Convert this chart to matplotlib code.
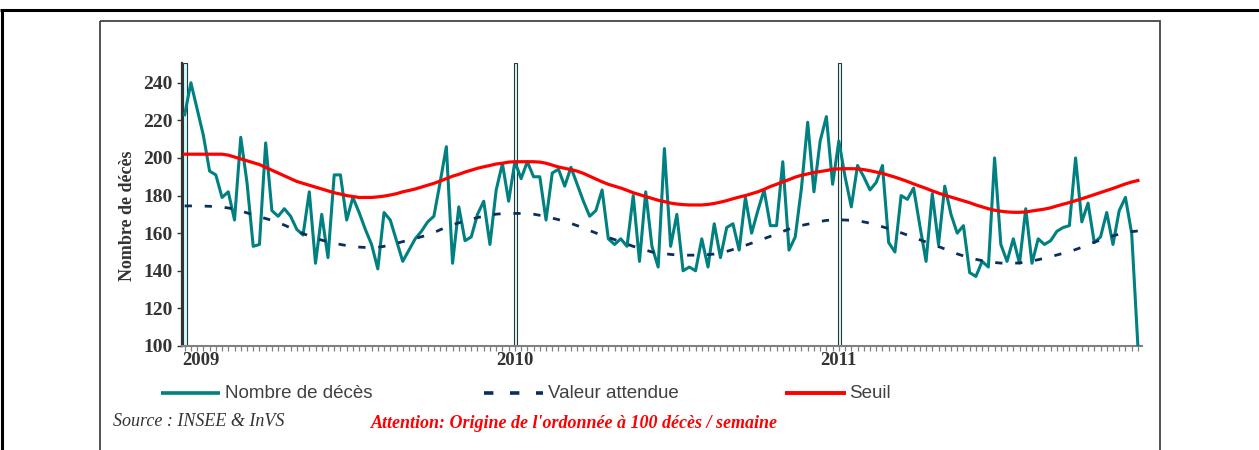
import matplotlib

matplotlib.use("Agg")
import matplotlib.pyplot as plt
import matplotlib.transforms as mtransforms
from matplotlib import font_manager
from matplotlib.patches import Rectangle
import numpy as np

W, H = 1259, 450

# weekly deaths, 2009 week 1 .. 2011 week 49
deces = [
    223, 240, 226, 212, 193, 191, 179, 182, 167, 211,
    187, 153, 154, 208, 172, 169, 173, 169, 162, 159,
    182, 144, 170, 147, 191, 191, 167, 179, 171, 162,
    154, 141, 171, 167, 156, 145, 151, 157, 161, 166,
    169, 187, 206, 144, 174, 156, 158, 170, 177, 154,
    183, 197, 177, 198, 189, 198, 190, 190, 167, 192,
    194, 185, 195, 186, 177, 169, 172, 183, 157, 154,
    157, 153, 180, 145, 182, 153, 142, 205, 153, 170,
    140, 142, 140, 157, 142, 165, 147, 163, 165, 151,
    179, 160, 172, 183, 164, 164, 198, 151, 158, 184,
    219, 182, 209, 222, 186, 209, 190, 174, 196, 190,
    183, 187, 196, 155, 150, 180, 178, 184, 164, 145,
    181, 154, 185, 170, 160, 164, 139, 137, 145, 142,
    200, 154, 145, 157, 144, 173, 144, 157, 154, 156,
    161, 163, 164, 200, 166, 176, 155, 158, 171, 154,
    172, 179, 160, 100,
]

attendue = [
    174.5, 174.5, 174.5, 174.4, 174.3, 174.1, 173.8, 173.4, 172.8, 171.8,
    170.8, 169.8, 168.8, 167.8, 166.8, 165.5, 164.3, 162.8, 161.2, 159.8,
    158.5, 157.3, 156.3, 155.5, 154.7, 154.0, 153.4, 152.9, 152.6, 152.4,
    152.4, 152.5, 153.0, 153.8, 154.6, 155.5, 156.3, 157.2, 158.1, 159.0,
    160.3, 161.8, 163.2, 164.4, 165.5, 166.5, 167.4, 168.3, 169.0, 169.6,
    170.1, 170.4, 170.5, 170.5, 170.5, 170.4, 170.1, 169.5, 168.8, 168.0,
    167.2, 166.2, 165.2, 164.0, 162.8, 161.4, 160.1, 158.8, 157.7, 156.6,
    155.4, 154.2, 153.0, 152.0, 151.0, 150.0, 149.5, 149.1, 148.7, 148.4,
    148.3, 148.3, 148.3, 148.4, 148.6, 148.9, 149.5, 150.3, 151.3, 152.4,
    153.5, 154.7, 155.9, 157.1, 158.3, 159.6, 160.9, 162.2, 163.2, 164.1,
    164.8, 165.5, 166.2, 166.8, 167.0, 167.1, 167.0, 166.8, 166.5, 166.0,
    165.3, 164.4, 163.4, 162.4, 161.3, 160.2, 159.0, 157.7, 156.5, 155.3,
    154.1, 152.9, 151.6, 150.3, 149.0, 147.9, 147.0, 146.1, 145.4, 144.8,
    144.4, 144.1, 144.0, 144.0, 144.2, 144.6, 145.2, 145.9, 146.7, 147.5,
    148.4, 149.3, 150.2, 151.3, 152.5, 154.0, 155.2, 156.4, 157.6, 158.6,
    159.5, 160.2, 160.8, 161.2,
]

seuil = [
    202.0, 202.0, 202.0, 202.0, 202.0, 202.0, 202.0, 201.5, 200.5, 199.5,
    198.5, 197.5, 196.5, 195.0, 193.5, 192.0, 190.5, 189.0, 187.5, 186.5,
    185.5, 184.5, 183.5, 182.5, 181.5, 180.8, 180.0, 179.5, 179.0, 179.0,
    179.0, 179.3, 179.7, 180.3, 181.0, 182.0, 182.7, 183.5, 184.5, 185.5,
    186.5, 187.7, 189.0, 190.3, 191.3, 192.5, 193.5, 194.5, 195.3, 196.0,
    196.8, 197.2, 197.8, 198.0, 198.0, 198.0, 198.0, 197.8, 197.2, 196.2,
    195.2, 194.5, 193.8, 193.0, 191.8, 190.3, 188.8, 187.3, 186.0, 185.0,
    184.0, 182.8, 181.5, 180.5, 179.5, 178.5, 177.5, 176.8, 176.0, 175.5,
    175.2, 175.0, 175.0, 175.0, 175.3, 175.8, 176.5, 177.3, 178.3, 179.2,
    180.0, 181.0, 182.0, 183.3, 184.8, 186.0, 187.3, 188.5, 189.8, 190.8,
    191.5, 192.3, 192.8, 193.3, 194.0, 194.2, 194.3, 194.3, 194.2, 193.8,
    193.2, 192.5, 191.8, 190.8, 189.8, 188.7, 187.5, 186.2, 185.0, 183.8,
    182.5, 181.3, 180.2, 179.2, 178.2, 177.2, 176.2, 175.0, 174.0, 173.0,
    172.2, 171.7, 171.3, 171.1, 171.1, 171.3, 171.8, 172.3, 172.8, 173.5,
    174.5, 175.4, 176.3, 177.3, 178.3, 179.4, 180.5, 181.6, 182.7, 183.8,
    185.0, 186.2, 187.2, 188.0,
]

years = ["2009", "2010", "2011"]
year_start = [0, 53, 105]
y_ticks = [100, 120, 140, 160, 180, 200, 220, 240]

TEAL = "#008080"
NAVY = "#0A2F5F"
RED = "#FF0000"
DARK = "#333333"


def pick_font(names):
    for name in names:
        try:
            font_manager.findfont(name, fallback_to_default=False)
            return name
        except ValueError:
            continue
    return "DejaVu Sans"


SERIF = pick_font(["Liberation Serif", "DejaVu Serif"])
NARROW = pick_font(["Liberation Sans Narrow", "Liberation Sans", "DejaVu Sans"])
plt.rcParams["font.family"] = [SERIF, "DejaVu Serif"]

weeks = np.arange(len(deces))

fig = plt.figure(figsize=(W / 100, H / 100), dpi=100)

# page decorations, drawn in pixel space
bg = fig.add_axes([0, 0, 1, 1], zorder=0)
bg.set_xlim(0, W)
bg.set_ylim(H, 0)
bg.axis("off")
bg.plot([0, W], [10, 10], color="black", lw=2.2, solid_capstyle="butt")
bg.plot([2, 2], [10, H], color="black", lw=2.2, solid_capstyle="butt")
bg.add_patch(Rectangle((100, 21), 1060, 500, fill=False, ec="#444444", lw=1.3, clip_on=False))

ax = fig.add_axes([182 / W, (H - 346) / H, 960 / W, 283 / H], zorder=1)
ax.patch.set_alpha(0)

for ws in year_start:
    ax.axvspan(ws - 0.2, ws + 0.3, fc="#CCFFFF", ec=DARK, lw=0.8, zorder=1)

ax.plot(weeks, deces, color=TEAL, lw=2.2, zorder=3)
ax.plot(weeks, attendue, color=NAVY, lw=2.0, linestyle=(0, (2.6, 4.6)), zorder=4)
ax.plot(weeks, seuil, color=RED, lw=2.3, zorder=5)

ax.set_xlim(-0.43, 153.66)
ax.set_ylim(100, 250.5)
ax.set_yticks(y_ticks)
ax.set_xticks(weeks)
ax.set_xticklabels([])
ax.tick_params(axis="x", length=3.8, width=0.9, color="#808080")
ax.tick_params(axis="y", length=3.8, width=1.0, color=DARK, pad=3, labelsize=14, labelcolor=DARK)
for lab in ax.get_yticklabels():
    lab.set_fontweight("bold")

for side in ["top", "right"]:
    ax.spines[side].set_visible(False)
ax.spines["left"].set_color(DARK)
ax.spines["left"].set_linewidth(1.6)
ax.spines["bottom"].set_color("#808080")
ax.spines["bottom"].set_linewidth(1.5)

trans = mtransforms.blended_transform_factory(ax.transData, ax.transAxes)
for name, ws in zip(years, year_start):
    if ws == 0:
        ax.text(-0.43, -0.05, name, transform=trans, ha="left", va="center",
                fontsize=13.5, fontweight="bold", color=DARK)
    else:
        ax.text(ws, -0.05, name, transform=trans, ha="center", va="center",
                fontsize=13.5, fontweight="bold", color=DARK)

fig.text(127 / W, (H - 216) / H, "Nombre de décès", rotation=90, ha="center", va="center",
         fontsize=13, fontweight="bold", color=DARK)

# legend, hand placed like the original
ly = 393
bg.plot([161, 220], [ly, ly], color=TEAL, lw=2.6, solid_capstyle="butt")
bg.plot([484, 543], [ly, ly], color=NAVY, lw=2.6, linestyle=(0, (2.6, 4.6)))
bg.plot([785, 846], [ly, ly], color=RED, lw=2.8, solid_capstyle="butt")
leg_kw = dict(va="center", ha="left", fontsize=13.5, color="#404040", family=[NARROW, "DejaVu Sans"])
bg.text(225, ly, "Nombre de décès", **leg_kw)
bg.text(548, ly, "Valeur attendue", **leg_kw)
bg.text(849, ly, "Seuil", **leg_kw)

bg.text(113, 422, "Source : INSEE & InVS", va="center", ha="left", fontsize=13,
        fontstyle="italic", color=DARK)
bg.text(371, 423, "Attention: Origine de l'ordonnée à 100 décès / semaine", va="center", ha="left",
        fontsize=13, fontstyle="italic", fontweight="bold", color=RED)

fig.savefig("out.png", dpi=100)
